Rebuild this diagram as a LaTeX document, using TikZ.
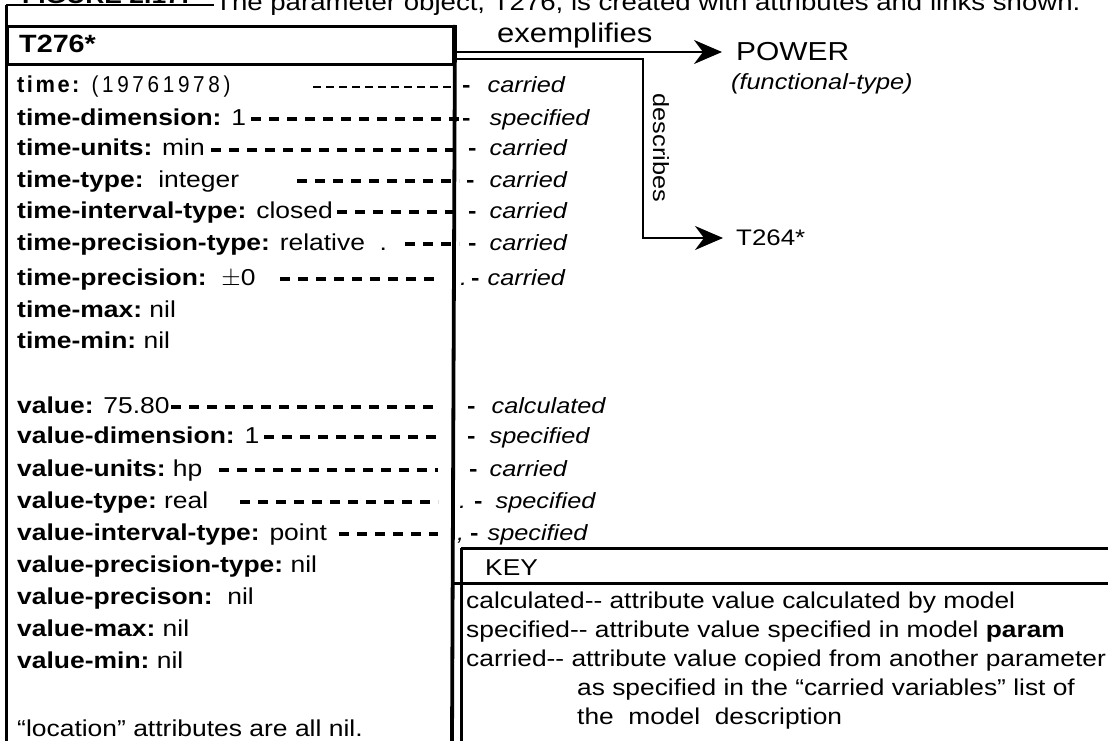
\documentclass[tikz,border=0pt]{standalone}
\usepackage{fontspec}
\setmainfont{Liberation Sans}[FakeStretch=1.15]
\newfontfamily\spacedfont{Liberation Sans}[FakeStretch=0.9,LetterSpace=16]
\newfontfamily\spacedlabel{Liberation Sans}[FakeStretch=0.95,LetterSpace=11]
\usetikzlibrary{arrows.meta}
\tikzset{
  txt/.style={inner sep=0pt, anchor=base west, font=\fontsize{23}{27}\selectfont},
  keytxt/.style={inner sep=0pt, anchor=base west, font=\fontsize{22.9}{27}\selectfont},
  ann/.style={txt, font=\fontsize{22}{26}\selectfont\itshape},
  leader/.style={line width=3.3pt, dash pattern=on 10pt off 8pt},
  thinleader/.style={line width=1.7pt, dash pattern=on 8pt off 5pt},
  frame/.style={line width=3pt},
  arr/.style={line width=2.5pt, -{Stealth[length=28pt,width=24pt,inset=9pt]}},
}
\newcommand{\dsh}{{\upshape\bfseries -}}
\begin{document}
\begin{tikzpicture}[x=1pt,y=-1pt]
\useasboundingbox (0,0) rectangle (1108,741);
% caption (clipped at the top)
\node[txt,font=\fontsize{23}{27}\selectfont\bfseries] (figno) at (22,4) {FIGURE 2.17:};
\node[txt,font=\fontsize{24}{28}\selectfont] (cap) at (215,11) {The parameter object, T276, is created with attributes and links shown.};
\draw[line width=2pt] (6,5) -- (214,5);
% frame
\draw[frame] (6,5) -- (6,741);
\node[draw, line width=3pt, minimum width=446pt, minimum height=38pt, anchor=north west, inner sep=0pt] (hdr) at (6,25) {};
\node[txt,font=\fontsize{25}{29}\selectfont\bfseries] (t276) at (19,53) {T276*};
\draw[line width=3.8pt] (hdr.north east) -- (452,741);
% time rows
\node[txt] (r1) at (17,93) {{\spacedlabel\bfseries time:}\hspace{12pt}{\spacedfont (19761978)}};
\node[txt] (r2) at (17,125) {\textbf{time-dimension:} 1};
\node[txt] (r3) at (17,156) {\textbf{time-units:} min};
\node[txt] (r4) at (17,187) {\textbf{time-type:}\ \ integer};
\node[txt] (r5) at (17,218) {\textbf{time-interval-type:} closed};
\node[txt] (r6) at (17,250) {\textbf{time-precision-type:} relative\ \ .};
\node[txt] (r7) at (17,285) {\textbf{time-precision:}\ \ $\pm$0};
\node[txt] (r8) at (17,317) {\textbf{time-max:}\ nil};
\node[txt] (r9) at (17,348) {\textbf{time-min:}\ nil};
% value rows
\node[txt] (r10) at (17,413) {\textbf{value:} 75.80};
\node[txt] (r11) at (17,443) {\textbf{value-dimension:} 1};
\node[txt] (r12) at (17,476) {\textbf{value-units:}\ hp};
\node[txt] (r13) at (17,508) {\textbf{value-type:}\ real};
\node[txt] (r14) at (17,540) {\textbf{value-interval-type:} point};
\node[txt] (r15) at (17,572) {\textbf{value-precision-type:}\ nil};
\node[txt] (r16) at (17,604) {\textbf{value-precison:}\ \ nil};
\node[txt] (r17) at (17,636) {\textbf{value-max:}\ nil};
\node[txt] (r18) at (17,668) {\textbf{value-min:}\ nil};
\node[txt] (r19) at (17,736) {``location'' attributes are all nil.};
% leader end points
\coordinate (s1) at (313,87);  \coordinate (e1) at (455,87);
\coordinate (s2) at (251,119); \coordinate (e2) at (459,119);
\coordinate (s3) at (211,150); \coordinate (e3) at (459,150);
\coordinate (s4) at (297,181); \coordinate (e4) at (459,181);
\coordinate (s5) at (337,212); \coordinate (e5) at (459,212);
\coordinate (s6) at (405,244); \coordinate (e6) at (459,244);
\coordinate (s7) at (280,279); \coordinate (e7) at (438,279);
\coordinate (s10) at (171,407); \coordinate (e10) at (438,407);
\coordinate (s11) at (264,437); \coordinate (e11) at (438,437);
\coordinate (s12) at (219,470); \coordinate (e12) at (438,470);
\coordinate (s13) at (240,502); \coordinate (e13) at (438,502);
\coordinate (s14) at (339,534); \coordinate (e14) at (438,534);
\draw[thinleader] (s1) -- (e1);
\foreach \i in {2,3,4,5,6,7,10,11,12,13,14} \draw[leader] (s\i) -- (e\i);
% annotations
\node[ann] (a1) at (462,93) {\dsh\hspace{17pt}carried};
\node[ann] (a2) at (462,125) {\dsh\hspace{19pt}specified};
\node[ann] (a3) at (468,156) {\dsh\hspace{13pt}carried};
\node[ann] (a4) at (466,187) {\dsh\hspace{15pt}carried};
\node[ann] (a5) at (468,218) {\dsh\hspace{13pt}carried};
\node[ann] (a6) at (468,250) {\dsh\hspace{13pt}carried};
\node[ann] (a7) at (460,285) {.\hspace{4pt}\dsh\hspace{8pt}carried};
\node[ann] (a10) at (467,413) {\dsh\hspace{16pt}calculated};
\node[ann] (a11) at (467,443) {\dsh\hspace{14pt}specified};
\node[ann] (a12) at (469,476) {\dsh\hspace{12pt}carried};
\node[ann] (a13) at (459,508) {.\hspace{8pt}\dsh\hspace{13pt}specified};
\node[ann] (a14) at (457,540) {,\hspace{6pt}\dsh\hspace{9pt}specified};
% links
\node[txt,font=\fontsize{27}{31}\selectfont] (exl) at (497,43) {exemplifies};
\node[inner sep=0pt, anchor=west, font=\fontsize{26}{30}\selectfont] (power) at (736,52) {POWER};
\node[ann] (ftype) at (731,90) {(functional-type)};
\draw[arr, shorten >=14pt] (hdr.east |- 0,52) -- (power.west);
\node[inner sep=0pt, anchor=west, font=\fontsize{22.5}{26}\selectfont] (t264) at (736,238) {T264*};
\coordinate (dc) at (643,59);
\draw[arr, shorten >=13pt] (hdr.east |- 0,59) -- (dc) |- (t264.west);
\node[inner sep=0pt, rotate=-90, font=\fontsize{22}{26}\selectfont] (desc) at (661,148) {describes};
% key
\draw[frame] (461,548) -- (461,741);
\draw[frame] (461,548) -- (1108,548);
\draw[frame] (452,583) -- (1108,583);
\node[keytxt] (key) at (485,575) {KEY};
\node[keytxt] (k1) at (466,608) {calculated-{}- attribute value calculated by model};
\node[keytxt] (k2) at (466,637) {specified-{}- attribute value specified in model \textbf{param}};
\node[keytxt] (k3) at (466,666) {carried-{}- attribute value copied from another parameter};
\node[keytxt] (k4) at (577,695) {as specified in the ``carried variables'' list of};
\node[keytxt] (k5) at (577,724) {the\ \ model\ \ description};
\end{tikzpicture}
\end{document}
